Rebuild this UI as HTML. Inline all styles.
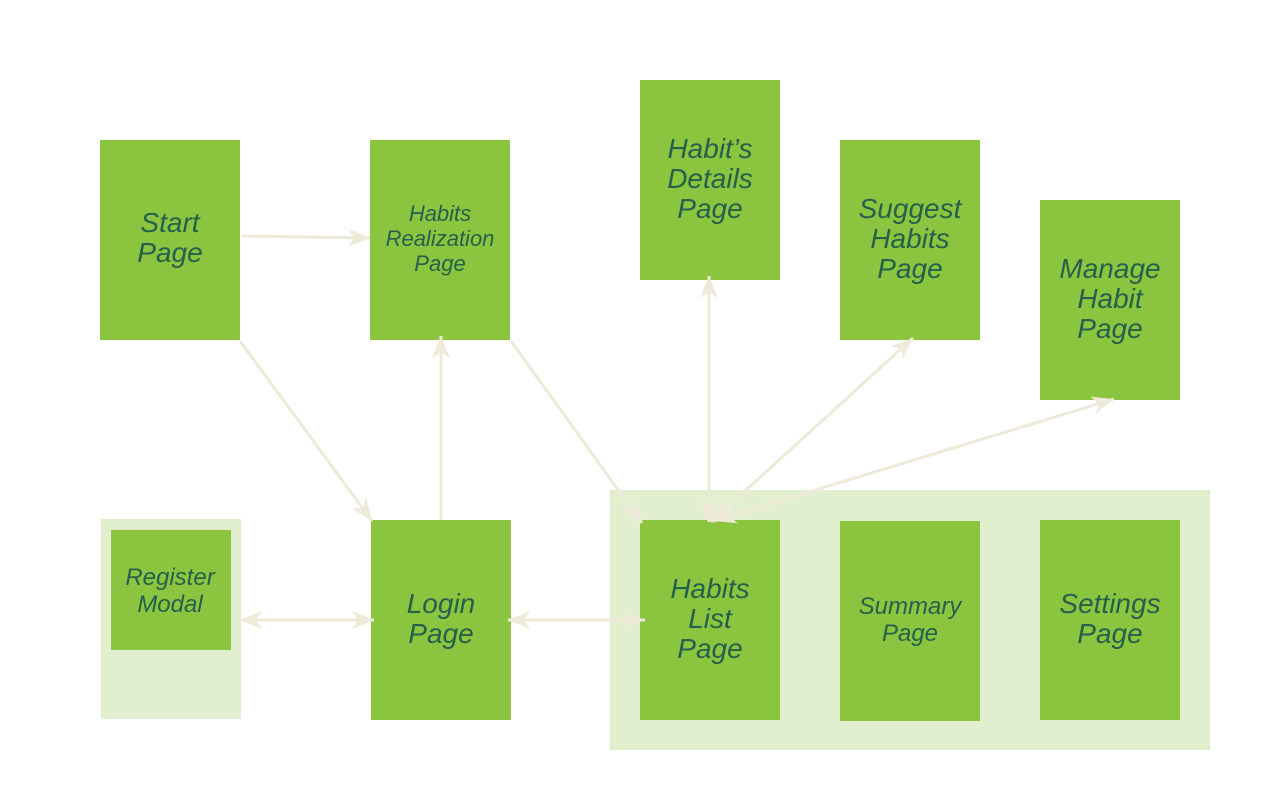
<!DOCTYPE html>
<html><head><meta charset="utf-8"><style>
html,body{margin:0;padding:0;background:#fff;}
svg{display:block;}
text{font-family:"Liberation Sans",sans-serif;font-style:italic;fill:#24604c;text-anchor:middle;}
</style></head><body>
<svg width="1280" height="800" viewBox="0 0 1280 800">
<defs>
<marker id="a" markerUnits="userSpaceOnUse" markerWidth="26" markerHeight="22" refX="22" refY="10" orient="auto-start-reverse">
<path d="M22,10 L0,1 L6,10 L0,19 Z" fill="#efe9da"/>
</marker>
</defs>
<rect x="101" y="519" width="140" height="200" fill="#e1efcf"/>
<rect x="610" y="490" width="600" height="260" fill="#e1efcf"/>
<g fill="#8bc53f">
<rect x="100" y="140" width="140" height="200"/>
<rect x="370" y="140" width="140" height="200"/>
<rect x="640" y="80" width="140" height="200"/>
<rect x="840" y="140" width="140" height="200"/>
<rect x="1040" y="200" width="140" height="200"/>
<rect x="111" y="530" width="120" height="120"/>
<rect x="371" y="520" width="140" height="200"/>
<rect x="640" y="520" width="140" height="200"/>
<rect x="840" y="521" width="140" height="200"/>
<rect x="1040" y="520" width="140" height="200"/>
</g>
<g stroke="#efe9da" stroke-width="3" fill="none">
<line x1="242" y1="236" x2="370" y2="238" marker-end="url(#a)"/>
<line x1="240" y1="341" x2="372" y2="521" marker-end="url(#a)"/>
<line x1="441" y1="520" x2="441" y2="336" marker-end="url(#a)"/>
<line x1="511" y1="341" x2="642" y2="523" marker-end="url(#a)"/>
<line x1="709" y1="522" x2="709" y2="276" marker-start="url(#a)" marker-end="url(#a)"/>
<line x1="711" y1="522" x2="913" y2="338" marker-start="url(#a)" marker-end="url(#a)"/>
<line x1="714" y1="521" x2="1114" y2="399" marker-start="url(#a)" marker-end="url(#a)"/>
<line x1="240" y1="620" x2="374" y2="620" marker-start="url(#a)" marker-end="url(#a)"/>
<line x1="508" y1="620" x2="645" y2="620" marker-start="url(#a)" marker-end="url(#a)"/>
</g>
<g font-size="28">
<text x="170" y="232">Start</text><text x="170" y="262">Page</text>
<text x="710" y="158">Habit’s</text><text x="710" y="188">Details</text><text x="710" y="218">Page</text>
<text x="910" y="218">Suggest</text><text x="910" y="248">Habits</text><text x="910" y="278">Page</text>
<text x="1110" y="278">Manage</text><text x="1110" y="308">Habit</text><text x="1110" y="338">Page</text>
<text x="441" y="613">Login</text><text x="441" y="643">Page</text>
<text x="710" y="598">Habits</text><text x="710" y="628">List</text><text x="710" y="658">Page</text>
<text x="1110" y="613">Settings</text><text x="1110" y="643">Page</text>
</g>
<g font-size="24">
<text x="170" y="585">Register</text><text x="170" y="612">Modal</text>
<text x="910" y="614">Summary</text><text x="910" y="641">Page</text>
</g>
<g font-size="22">
<text x="440" y="221">Habits</text><text x="440" y="246">Realization</text><text x="440" y="271">Page</text>
</g>
</svg>
</body></html>
